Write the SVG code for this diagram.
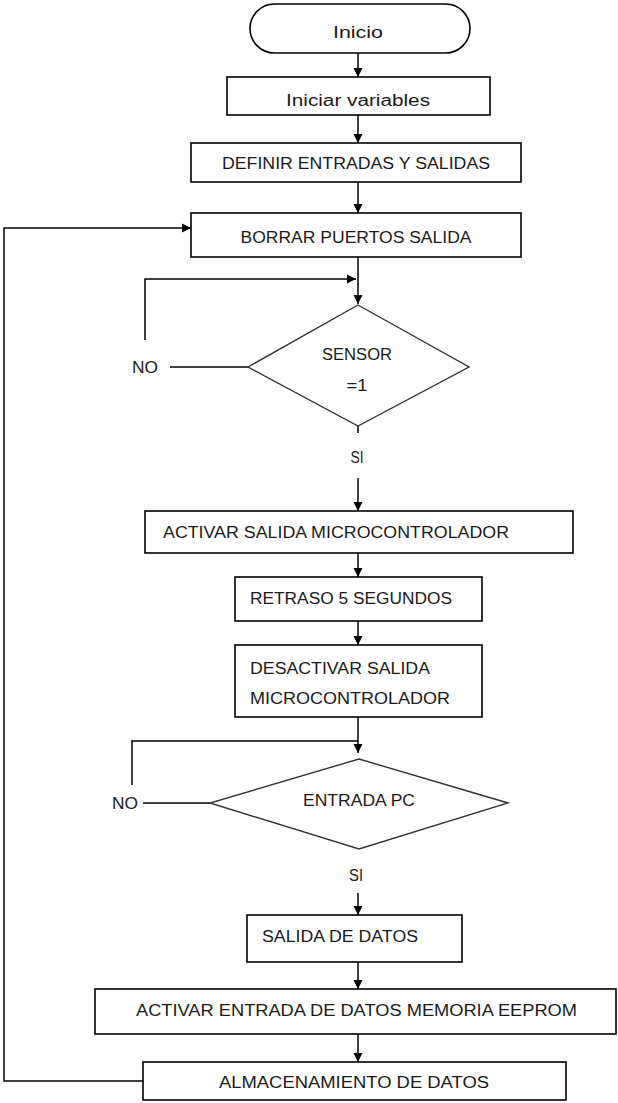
<svg xmlns="http://www.w3.org/2000/svg" width="618" height="1103" viewBox="0 0 618 1103">
<style>
.box{fill:#fff;stroke:#000;stroke-width:1.6}
.dia{fill:#fff;stroke:#333;stroke-width:1.4}
.t{font-family:"Liberation Sans",Arial,sans-serif;font-size:16px;fill:#1a1a1a}
.c{text-anchor:middle}
.ln{fill:none;stroke:#000;stroke-width:1.5}
</style>
<defs>
<marker id="ah" viewBox="0 0 10 10" refX="10" refY="5" markerWidth="9" markerHeight="10" markerUnits="userSpaceOnUse" orient="auto"><path d="M0,0 L10,5 L0,10 z" fill="#000"/></marker>
</defs>
<rect width="618" height="1103" fill="#fff"/>
<g id="connectors">
<line class="ln" x1="358" y1="53" x2="358" y2="77" marker-end="url(#ah)"/>
<line class="ln" x1="358" y1="115" x2="358" y2="143" marker-end="url(#ah)"/>
<line class="ln" x1="358" y1="182" x2="358" y2="213" marker-end="url(#ah)"/>
<polyline class="ln" points="143,1081 4,1081 4,228 191,228" marker-end="url(#ah)"/>
<line class="ln" x1="358" y1="257" x2="358" y2="304" marker-end="url(#ah)"/>
<polyline class="ln" points="145,340 145,279 356,279" marker-end="url(#ah)"/>
<line class="ln" x1="170" y1="367" x2="248" y2="367"/>
<line class="ln" x1="358" y1="426" x2="358" y2="433"/>
<line class="ln" x1="358" y1="478" x2="358" y2="511" marker-end="url(#ah)"/>
<line class="ln" x1="358" y1="553" x2="358" y2="577" marker-end="url(#ah)"/>
<line class="ln" x1="358" y1="621" x2="358" y2="645" marker-end="url(#ah)"/>
<line class="ln" x1="358" y1="717" x2="358" y2="753" marker-end="url(#ah)"/>
<polyline class="ln" points="132,785 132,741 358,741"/>
<line class="ln" x1="143" y1="803" x2="210" y2="803"/>
<line class="ln" x1="358" y1="893" x2="358" y2="915" marker-end="url(#ah)"/>
<line class="ln" x1="358" y1="962" x2="358" y2="989" marker-end="url(#ah)"/>
<line class="ln" x1="358" y1="1034" x2="358" y2="1062" marker-end="url(#ah)"/>
<text class="t c" x="145" y="373" textLength="26" lengthAdjust="spacingAndGlyphs">NO</text>
<text class="t c" x="357" y="463" textLength="13" lengthAdjust="spacingAndGlyphs">SI</text>
<text class="t c" x="125" y="809" textLength="26" lengthAdjust="spacingAndGlyphs">NO</text>
<text class="t c" x="356" y="881" textLength="14" lengthAdjust="spacingAndGlyphs">SI</text>
</g>
<g id="inicio">
<rect class="box" x="250" y="4" width="220" height="49" rx="24.5" ry="24.5"/>
<text class="t c" x="358" y="38" textLength="50" lengthAdjust="spacingAndGlyphs">Inicio</text>
</g>
<g id="iniciar">
<rect class="box" x="227" y="77" width="263" height="38"/>
<text class="t c" x="358" y="106" textLength="144" lengthAdjust="spacingAndGlyphs">Iniciar variables</text>
</g>
<g id="definir">
<rect class="box" x="191" y="143" width="330" height="39"/>
<text class="t c" x="356" y="169" textLength="268" lengthAdjust="spacingAndGlyphs">DEFINIR ENTRADAS Y SALIDAS</text>
</g>
<g id="borrar">
<rect class="box" x="191" y="213" width="330" height="44"/>
<text class="t c" x="356" y="243" textLength="231" lengthAdjust="spacingAndGlyphs">BORRAR PUERTOS SALIDA</text>
</g>
<g id="sensor">
<polygon class="dia" points="358,305 469,367 358,426 248,367"/>
<text class="t c" x="357" y="360" textLength="70" lengthAdjust="spacingAndGlyphs">SENSOR</text>
<text class="t c" x="357" y="391" textLength="21" lengthAdjust="spacingAndGlyphs">=1</text>
</g>
<g id="activar-salida">
<rect class="box" x="145" y="511" width="428" height="42"/>
<text class="t" x="163" y="538" textLength="346" lengthAdjust="spacingAndGlyphs">ACTIVAR SALIDA MICROCONTROLADOR</text>
</g>
<g id="retraso">
<rect class="box" x="235" y="577" width="247" height="44"/>
<text class="t" x="250" y="604" textLength="202" lengthAdjust="spacingAndGlyphs">RETRASO 5 SEGUNDOS</text>
</g>
<g id="desactivar">
<rect class="box" x="235" y="645" width="247" height="72"/>
<text class="t" x="250" y="674" textLength="180" lengthAdjust="spacingAndGlyphs">DESACTIVAR SALIDA</text>
<text class="t" x="250" y="704" textLength="200" lengthAdjust="spacingAndGlyphs">MICROCONTROLADOR</text>
</g>
<g id="entrada-pc">
<polygon class="dia" points="359,759 508,803 359,849 210,803"/>
<text class="t c" x="359" y="806" textLength="112" lengthAdjust="spacingAndGlyphs">ENTRADA PC</text>
</g>
<g id="salida-datos">
<rect class="box" x="247" y="915" width="215" height="47"/>
<text class="t" x="262" y="942" textLength="156" lengthAdjust="spacingAndGlyphs">SALIDA DE DATOS</text>
</g>
<g id="activar-entrada">
<rect class="box" x="95" y="989" width="521" height="45"/>
<text class="t" x="136" y="1016" textLength="441" lengthAdjust="spacingAndGlyphs">ACTIVAR ENTRADA DE DATOS MEMORIA EEPROM</text>
</g>
<g id="almacenamiento">
<rect class="box" x="143" y="1062" width="423" height="38"/>
<text class="t" x="219" y="1088" textLength="270" lengthAdjust="spacingAndGlyphs">ALMACENAMIENTO DE DATOS</text>
</g>
</svg>
